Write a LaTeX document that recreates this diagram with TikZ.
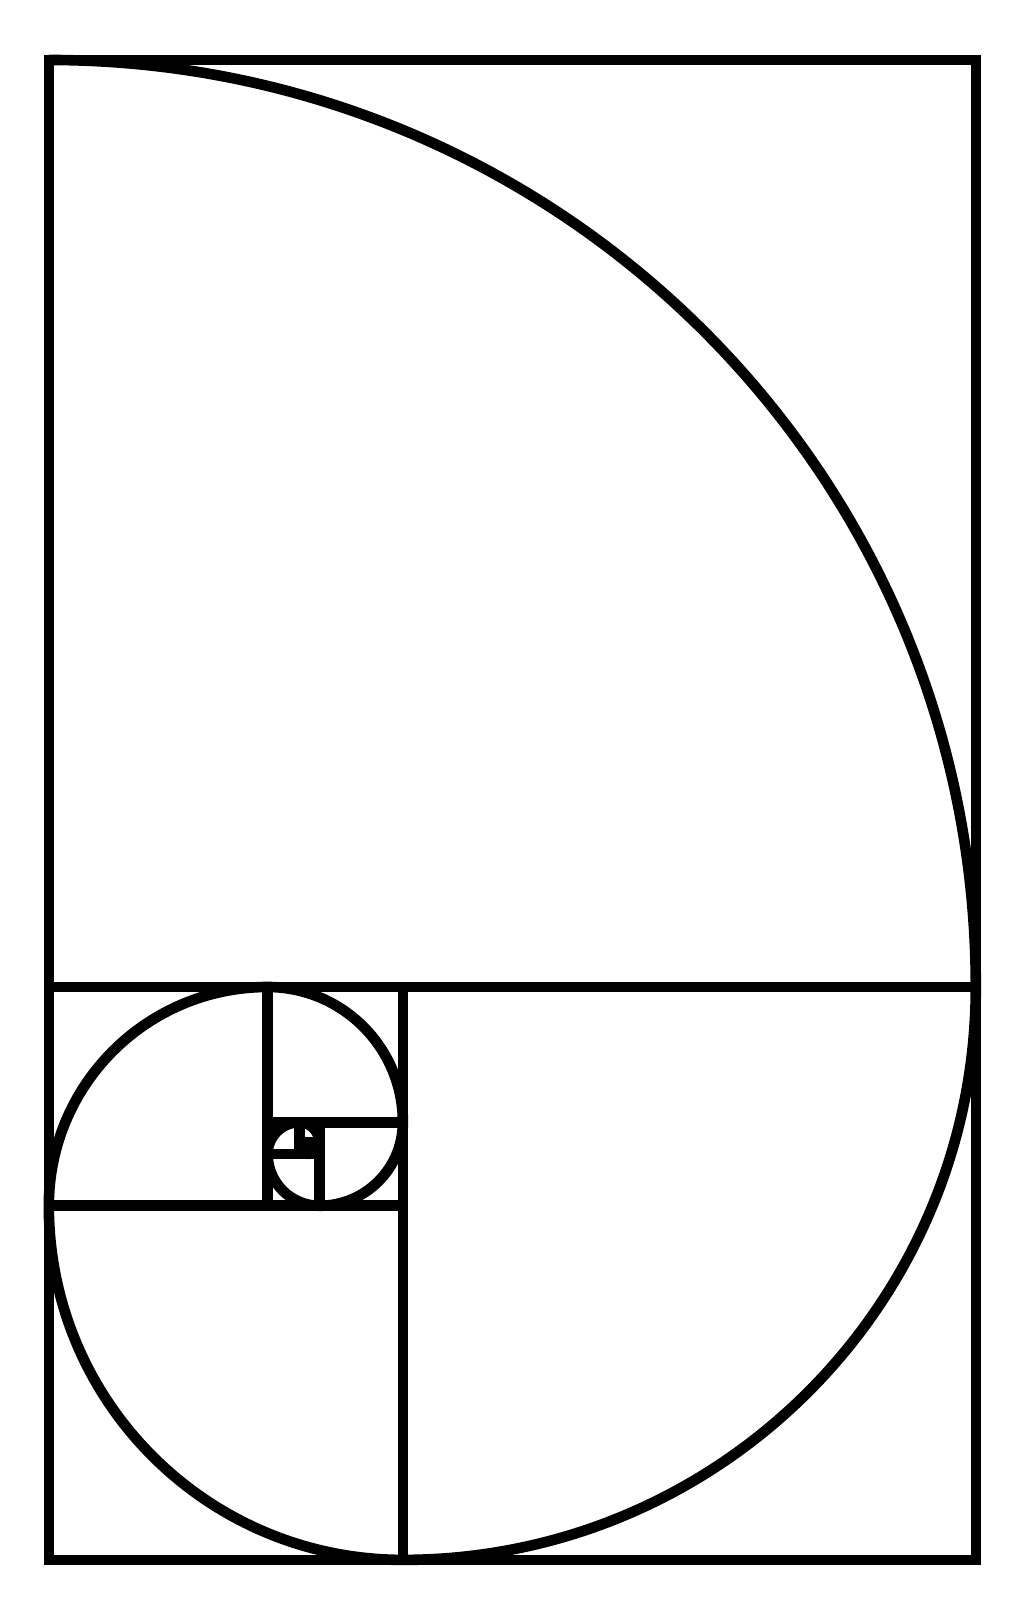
\documentclass[tikz,border=0pt]{standalone}
\begin{document}
\begin{tikzpicture}[x=0.5pt,y=0.5pt,line width=5.3pt]
\useasboundingbox (0,0) rectangle (1024,1620);
\xdef\L{48.8}\xdef\T{1560}\xdef\W{927}\xdef\H{1499.9}
\foreach \i in {0,...,13}{
  \pgfmathtruncatemacro\d{mod(\i,4)}
  \ifnum\d=0
    \pgfmathsetmacro\s{\W}
    \draw (\L,\T-\s) rectangle (\L+\s,\T);
    \draw (\L,\T) arc[start angle=90,end angle=0,radius=\s];
    \pgfmathsetmacro\nT{\T-\s}\pgfmathsetmacro\nH{\H-\s}
    \xdef\T{\nT}\xdef\H{\nH}
  \fi
  \ifnum\d=1
    \pgfmathsetmacro\s{\H}
    \draw (\L+\W-\s,\T-\s) rectangle (\L+\W,\T);
    \draw (\L+\W,\T) arc[start angle=0,end angle=-90,radius=\s];
    \pgfmathsetmacro\nW{\W-\s}
    \xdef\W{\nW}
  \fi
  \ifnum\d=2
    \pgfmathsetmacro\s{\W}
    \draw (\L,\T-\H) rectangle (\L+\s,\T-\H+\s);
    \draw (\L+\s,\T-\H) arc[start angle=-90,end angle=-180,radius=\s];
    \pgfmathsetmacro\nH{\H-\s}
    \xdef\H{\nH}
  \fi
  \ifnum\d=3
    \pgfmathsetmacro\s{\H}
    \draw (\L,\T-\s) rectangle (\L+\s,\T);
    \draw (\L,\T-\s) arc[start angle=180,end angle=90,radius=\s];
    \pgfmathsetmacro\nL{\L+\s}\pgfmathsetmacro\nW{\W-\s}
    \xdef\L{\nL}\xdef\W{\nW}
  \fi
}
\end{tikzpicture}
\end{document}
